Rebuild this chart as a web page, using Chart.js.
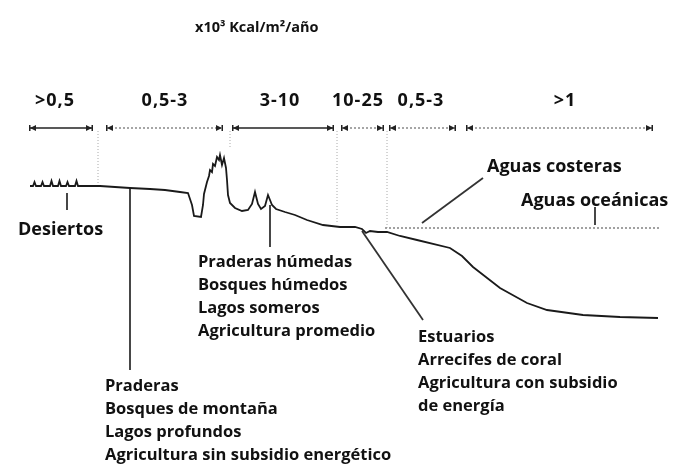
<!DOCTYPE html>
<html>
<head>
<meta charset="utf-8">
<script src="https://cdn.jsdelivr.net/npm/chart.js@4.4.1/dist/chart.umd.min.js"></script>
<style>
  body { margin: 0; background: #fff; }
  #wrap { width: 678px; height: 466px; }
</style>
</head>
<body>
<div id="wrap"><canvas id="myChart" width="678" height="466"></canvas></div>
<script>
// schematic units: x = position along the profile, y = depth of the drawing (downwards)
const profileX = [30, 33, 34.5, 36, 41, 42.5, 44, 50, 51.5, 53, 58, 59.5, 61, 66, 67.5, 69, 75, 76.5, 78,
  100, 115, 130, 150, 165, 180, 188, 192, 194, 201, 203, 204, 207, 209, 210, 212, 213, 215, 217, 219, 220,
  222, 224, 226, 227, 228, 230, 235, 242, 248, 252, 255, 258, 261, 265, 268, 270, 272, 276, 285, 295, 307,
  323, 340, 355, 362, 366, 370, 378, 387, 400, 417, 450, 462, 473, 500, 527, 547, 583, 620, 658]
const profileY = [186, 186, 182, 186, 186, 182, 186, 186, 181, 186, 186, 181, 186, 186, 182, 186, 186, 181, 186,
  186, 187, 188, 189, 190, 192, 193, 205, 216, 217, 205, 194, 182, 176, 170, 172, 164, 166, 157, 160, 155,
  165, 158, 168, 180, 195, 203, 208, 211, 210, 204, 192, 204, 209, 206, 195, 200, 205, 209, 212, 215, 220,
  225, 227, 227, 229, 233, 231, 232, 232, 236, 240, 248, 256, 267, 288, 303, 310, 315, 317, 318]

const oceanX = [385, 660]
const oceanY = [228, 228]

const title = 'x10³ Kcal/m²/año'
const rangeLabels = ['>0,5', '0,5-3', '3-10', '10-25', '0,5-3', '>1']
const rangeLabelX = [55, 165, 280, 358, 421, 565]
const rangeStart = [30, 107, 233, 342, 390, 467]
const rangeEnd = [92, 222, 333, 383, 455, 652]
const rangeDotted = [false, true, false, true, true, true]
const rangeY = 128

const boundaryX = [98, 230, 337, 387]
const boundaryBottom = [185, 148, 223, 229]

// leader lines: [x1, y1, x2, y2]
const leaderLines = [
  [67, 193, 67, 210],
  [130, 189, 130, 370],
  [270, 205, 270, 247],
  [362, 231, 423, 320],
  [422, 223, 483, 178],
  [595, 207, 595, 225]
]

const groupText = [
  ['Desiertos'],
  ['Praderas', 'Bosques de montaña', 'Lagos profundos', 'Agricultura sin subsidio energético'],
  ['Praderas húmedas', 'Bosques húmedos', 'Lagos someros', 'Agricultura promedio'],
  ['Estuarios', 'Arrecifes de coral', 'Agricultura con subsidio', 'de energía'],
  ['Aguas costeras'],
  ['Aguas oceánicas']
]
const groupX = [18, 105, 198, 418, 487, 521]
const groupY = [235, 391, 267, 342, 172, 206]

const pts = (xs, ys) => xs.map((x, i) => ({x: x, y: ys[i]}))

const datasets = [
  {data: pts(profileX, profileY), borderColor: '#1a1a1a', borderWidth: 1.8},
  {data: pts(oceanX, oceanY), borderColor: '#8a8a8a', borderWidth: 1.6, borderDash: [2, 2]}
]
rangeStart.forEach((s, i) => {
  datasets.push({data: [{x: s, y: rangeY}, {x: rangeEnd[i], y: rangeY}],
    borderColor: rangeDotted[i] ? '#777' : '#222', borderWidth: rangeDotted[i] ? 1.3 : 1.5,
    borderDash: rangeDotted[i] ? [2, 2] : []})
})
boundaryX.forEach((x, i) => {
  datasets.push({data: [{x: x, y: rangeY + 3}, {x: x, y: boundaryBottom[i]}],
    borderColor: '#aaa', borderWidth: 1, borderDash: [1, 2]})
})
leaderLines.forEach(l => {
  datasets.push({data: [{x: l[0], y: l[1]}, {x: l[2], y: l[3]}], borderColor: '#333', borderWidth: 1.8})
})
datasets.forEach(d => { d.pointRadius = 0; d.showLine = true; d.fill = false; d.tension = 0 })

const textPlugin = {
  id: 'schemaText',
  afterDatasetsDraw(chart) {
    const ctx = chart.ctx
    const xs = chart.scales.x, ys = chart.scales.y
    ctx.save()
    ctx.textBaseline = 'alphabetic'

    // arrow heads at the range ends
    rangeStart.forEach((s, i) => {
      const y = ys.getPixelForValue(rangeY)
      const a = xs.getPixelForValue(s), b = xs.getPixelForValue(rangeEnd[i])
      ctx.fillStyle = '#222'
      ctx.beginPath()
      ctx.moveTo(a, y); ctx.lineTo(a + 6, y - 3); ctx.lineTo(a + 6, y + 3); ctx.closePath()
      ctx.moveTo(b, y); ctx.lineTo(b - 6, y - 3); ctx.lineTo(b - 6, y + 3); ctx.closePath()
      ctx.fill()
      ctx.fillRect(a - 1, y - 3, 1.5, 6)
      ctx.fillRect(b - 0.5, y - 3, 1.5, 6)
    })

    ctx.fillStyle = '#111'
    ctx.font = 'bold 14.5px "Open Sans"'
    ctx.textAlign = 'left'
    ctx.fillText(title, xs.getPixelForValue(195), ys.getPixelForValue(32))

    ctx.font = 'bold 18px "Open Sans"'
    ctx.letterSpacing = '1px'
    ctx.textAlign = 'center'
    rangeLabels.forEach((t, i) => {
      ctx.fillText(t, xs.getPixelForValue(rangeLabelX[i]), ys.getPixelForValue(106))
    })
    ctx.letterSpacing = '0px'

    ctx.textAlign = 'left'
    groupText.forEach((lines, g) => {
      ctx.font = lines.length === 1 ? 'bold 18px "Open Sans"' : 'bold 16.5px "Open Sans"'
      lines.forEach((t, k) => {
        ctx.fillText(t, xs.getPixelForValue(groupX[g]), ys.getPixelForValue(groupY[g] + k * 23))
      })
    })
    ctx.restore()
  }
}

new Chart('myChart', {
  type: 'scatter',
  data: {datasets: datasets},
  options: {
    responsive: false,
    animation: false,
    layout: {padding: 0},
    scales: {
      x: {type: 'linear', min: 0, max: 678, display: false},
      y: {type: 'linear', min: 0, max: 466, reverse: true, display: false}
    },
    plugins: {legend: {display: false}, tooltip: {enabled: false}}
  },
  plugins: [textPlugin]
})
</script>
</body>
</html>
